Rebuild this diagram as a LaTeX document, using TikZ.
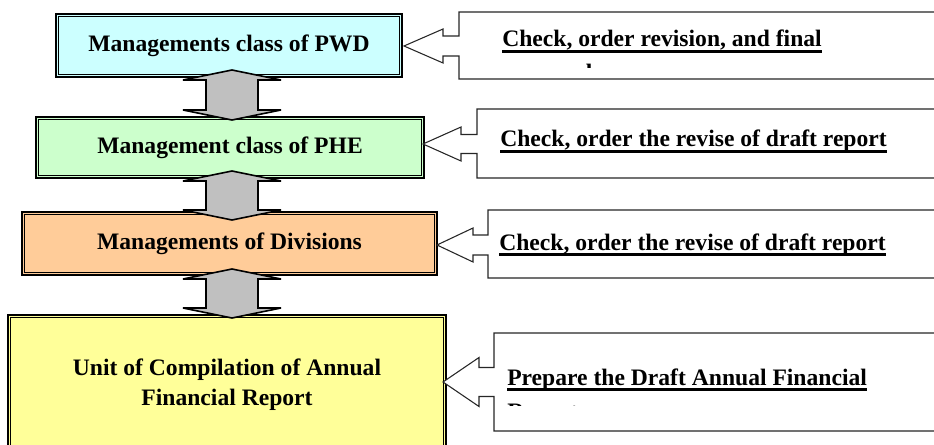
\documentclass[tikz,border=0pt]{standalone}
\usepackage{fontspec}
\setmainfont{Liberation Serif}
\definecolor{pwdfill}{HTML}{CCFFFF}
\definecolor{phefill}{HTML}{CCFFCC}
\definecolor{divfill}{HTML}{FFCC99}
\definecolor{unitfill}{HTML}{FFFF99}
\definecolor{arrowgray}{HTML}{C0C0C0}

% vertical two-headed block arrow: centre x, top tip y, bottom tip y
\newcommand\updown[3]{%
  \draw[garrow] (#1,#2) -- (#1+49,#2+10) -- (#1+26,#2+10) -- (#1+26,#3-10)
    -- (#1+49,#3-10) -- (#1,#3) -- (#1-49,#3-10) -- (#1-26,#3-10)
    -- (#1-26,#2+10) -- (#1-49,#2+10) -- cycle;}

% left-pointing callout: tip x, tip y, head base x, body x, top, bottom,
% head half height, shaft half height
\newcommand\leftcallout[8]{%
  \draw[callout] (960,#5) -- (#4,#5) -- (#4,#2-#8) -- (#3,#2-#8)
    -- (#3,#2-#7) -- (#1,#2) -- (#3,#2+#7) -- (#3,#2+#8) -- (#4,#2+#8)
    -- (#4,#6) -- (960,#6) -- cycle;}

\begin{document}
\begin{tikzpicture}[x=0.75pt,y=-0.75pt,
  every node/.style={font=\fontsize{17.7}{22.5}\selectfont\bfseries},
  level/.style={draw=black, line width=1.6pt, align=center, inner sep=0pt},
  inner/.style={draw=black, line width=0.7pt},
  garrow/.style={fill=arrowgray, draw=black, line width=1.2pt,
    line join=miter, miter limit=3},
  callout/.style={fill=white, draw=black!85, line width=0.8pt,
    line join=miter, miter limit=3},
  note/.style={anchor=base west, inner sep=0pt},
  uline/.style={line width=1.8pt}]
\useasboundingbox (0,0) rectangle (934,445);
\clip (0,0) rectangle (934,445);

% organisational levels
\node[level, fill=pwdfill, minimum width=259.5pt, minimum height=47.25pt]
  (pwd) at (229,45.5) {Managements class of PWD};
\node[level, fill=phefill, minimum width=291pt, minimum height=45.75pt]
  (phe) at (230,147.5) {Management class of PHE};
\node[level, fill=divfill, minimum width=311.25pt, minimum height=47.25pt]
  (div) at (229.5,243.5) {Managements of Divisions};
\node[level, fill=unitfill, minimum width=328.5pt, minimum height=105pt]
  (unit) at (227,385) {Unit of Compilation of Annual\\Financial Report};
\foreach \n in {pwd,phe,div,unit}
  \draw[inner] ([shift={(3.5,3.5)}]\n.north west)
    rectangle ([shift={(-3.5,-3.5)}]\n.south east);

% two-way links between levels
\updown{232}{70}{120}
\updown{232}{171}{220}
\updown{232}{269}{318}

% task callouts
\leftcallout{404}{46}{443}{459}{12}{79}{17}{10}
\leftcallout{423}{144}{461}{477}{109}{178}{17}{9.5}
\leftcallout{437}{245}{473}{488}{210}{278}{17}{10}
\leftcallout{443}{382}{479}{494}{333}{431}{24.5}{14.5}

\node[note] (t1) at (502,47) {Check, order revision, and final};
\node[note] (t2) at (500,147) {Check, order the revise of draft report};
\node[note] (t3) at (499,250) {Check, order the revise of draft report};
\node[note] (t4) at (507,385) {Prepare the Draft Annual Financial};
\foreach \t in {t1,t2,t3,t4}
  \draw[uline] ([shift={(0,4.5)}]\t.base west) -- ([shift={(0,4.5)}]\t.base east);

% second lines cut off by the text frame
\begin{scope}
  \clip (495,60) rectangle (700,67.5);
  \node[note] (t1b) at (502,81) {approval};
\end{scope}
\begin{scope}
  \clip (495,398) rectangle (700,405);
  \node[note] (t4b) at (507,419) {Report};
\end{scope}
\end{tikzpicture}
\end{document}
